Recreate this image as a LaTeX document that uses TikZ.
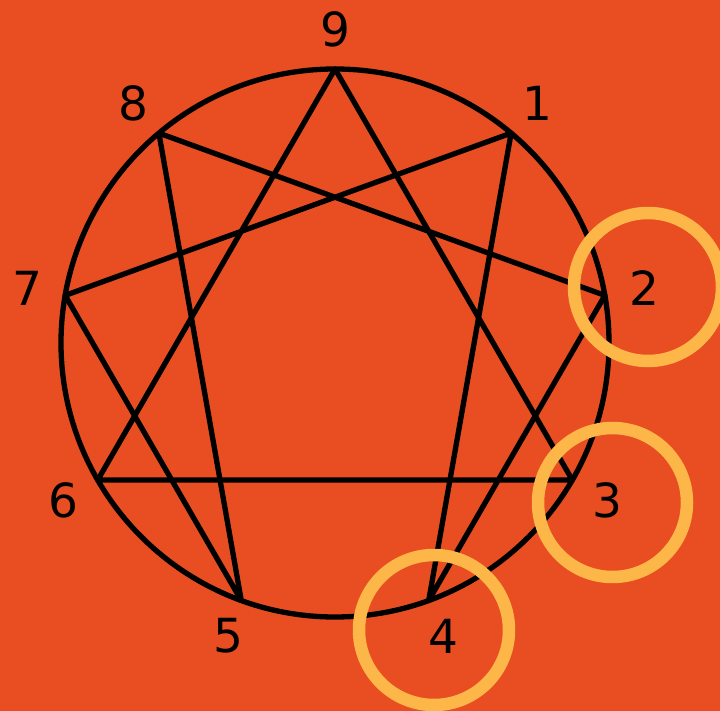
\documentclass[tikz,border=0pt]{standalone}
\usepackage{fontspec}
\setmainfont{DejaVu Sans}
\usetikzlibrary{calc}
\definecolor{bg}{HTML}{E84E22}
\definecolor{ring}{HTML}{FDB648}
\begin{document}
\begin{tikzpicture}[x=1pt,y=-1pt,
  edge/.style={black,line width=5.3pt,line join=round,line cap=round},
  lbl/.style={font=\fontsize{47}{47}\selectfont,inner sep=0pt},
  hl/.style={ring,line width=12.5pt}]
\fill[bg] (0,0) rectangle (720,711);
\useasboundingbox (0,0) rectangle (720,711);
\coordinate (c) at (335,343);
\foreach \k in {0,...,8} {
  \coordinate (p\k) at ($(c)+({274*cos(90-40*\k)},{-274*sin(90-40*\k)})$);
}
\draw[edge] (c) circle (274);
\draw[edge] (p0) -- (p3) -- (p6) -- cycle;
\draw[edge] (p1) -- (p4) -- (p2) -- (p8) -- (p5) -- (p7) -- cycle;
\node[lbl] (l9) at (335,29) {9};
\node[lbl] (l1) at (537,103) {1};
\node[lbl] (l2) at (644,288) {2};
\node[lbl] (l3) at (607,500) {3};
\node[lbl] (l4) at (443,636) {4};
\node[lbl] (l5) at (228,636) {5};
\node[lbl] (l6) at (63,500) {6};
\node[lbl] (l7) at (27,288) {7};
\node[lbl] (l8) at (133,103) {8};
\draw[hl] (648,287) circle (74);
\draw[hl] (612.5,502.5) circle (74.5);
\draw[hl] (434,630) circle (75);
\end{tikzpicture}
\end{document}
